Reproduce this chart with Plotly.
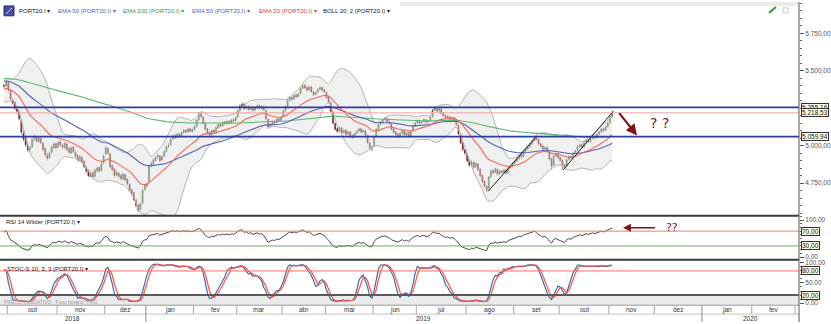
import numpy as np
import pandas as pd
import plotly.graph_objects as go

W, H = 831, 324
SCALE_X = 799          # pixel column of the price scale
PX_PER_SESSION = 2.164
FONT = "Liberation Sans"

symbol = "PORT20.I"

# ---- daily sessions: 27 Sep 2018 .. 4 Nov 2019 (x = -1 .. 280) ----
opens = [
    5405, 5398,
    5420, 5365, 5305, 5290, 5245, 5225, 5170, 5080, 5050, 5000, 4975, 4990, 5045, 5058, 5025, 5048, 5015, 4980, 4935, 4920, 4955, 4985, 5012,
    4990, 5025, 5000, 4985, 5010, 4980, 4950, 4990, 4955, 4935, 4900, 4920, 4895, 4855, 4835, 4795, 4820, 4795, 4830, 4855, 4835, 4885,
    4945, 4980, 4945, 4865, 4845, 4805, 4815, 4800, 4775, 4805, 4775, 4740, 4705, 4685, 4635, 4605, 4575, 4615, 4705,
    4730, 4760, 4865, 4875, 4900, 4925, 4930, 4905, 4930, 4962, 4995, 5005, 5045, 5068, 5055, 5078, 5062, 5088, 5102, 5092, 5112, 5095,
    5108, 5128, 5172, 5212, 5190, 5148, 5112, 5088, 5072, 5102, 5092, 5118, 5142, 5132, 5158, 5148, 5162, 5152, 5172, 5168,
    5190, 5232, 5262, 5278, 5248, 5262, 5242, 5255, 5238, 5252, 5268, 5248, 5262, 5235, 5175, 5128, 5142, 5162, 5152, 5178, 5168,
    5195, 5232, 5262, 5302, 5322, 5312, 5338, 5328, 5348, 5382, 5402, 5388, 5372, 5392, 5358, 5342, 5358, 5378, 5388, 5372,
    5355, 5322, 5288, 5225, 5148, 5112, 5098, 5118, 5088, 5102, 5078, 5092, 5068, 5058, 5082, 5098, 5112, 5092, 5098, 5068, 5018, 4982,
    4995, 5062, 5112, 5142, 5152, 5172, 5182, 5162, 5148, 5112, 5092, 5078, 5062, 5082, 5098, 5072, 5088, 5062, 5098, 5132,
    5152, 5168, 5152, 5162, 5172, 5158, 5168, 5192, 5238, 5252, 5232, 5242, 5218, 5202, 5188, 5192, 5178, 5188, 5168, 5138, 5078, 5018, 4972,
    4945, 4905, 4872, 4888, 4858, 4878, 4842, 4802, 4762, 4728, 4712, 4792, 4832, 4822, 4842, 4812, 4832, 4822, 4838, 4818, 4852, 4862,
    4882, 4898, 4912, 4938, 4928, 4962, 4978, 4992, 5012, 5032, 5052, 5042, 5012, 4998, 4978, 4988, 4958, 4912, 4870, 4932, 4948,
    4922, 4902, 4872, 4862, 4908, 4928, 4918, 4952, 4968, 4992, 5008, 4992, 5022, 5038, 5028, 5048, 5062, 5052, 5078, 5092, 5112, 5102, 5128,
    5152, 5195,
]
highs = [
    5412, 5438,
    5428, 5372, 5318, 5296, 5262, 5236, 5178, 5098, 5060, 5015, 5000, 5052, 5075, 5066, 5062, 5055, 5022, 4988, 4950, 4960, 5000, 5022, 5020,
    5030, 5035, 5012, 5025, 5018, 4990, 4995, 4998, 4965, 4942, 4938, 4930, 4902, 4866, 4840, 4828, 4825, 4845, 4862, 4860, 4890, 4942,
    4995, 4990, 4950, 4875, 4852, 4835, 4825, 4810, 4820, 4812, 4782, 4748, 4715, 4690, 4645, 4612, 4620, 4710, 4742,
    4760, 4870, 4895, 4915, 4932, 4948, 4938, 4935, 4968, 5002, 5015, 5050, 5075, 5078, 5085, 5085, 5095, 5112, 5110, 5120, 5118, 5115,
    5135, 5178, 5222, 5218, 5198, 5155, 5118, 5095, 5108, 5110, 5128, 5150, 5148, 5162, 5165, 5168, 5170, 5178, 5180, 5195,
    5238, 5275, 5290, 5282, 5270, 5268, 5262, 5260, 5258, 5275, 5272, 5268, 5266, 5240, 5180, 5150, 5168, 5170, 5182, 5185, 5198,
    5240, 5268, 5310, 5330, 5328, 5342, 5345, 5352, 5390, 5412, 5410, 5395, 5398, 5396, 5365, 5362, 5382, 5395, 5392, 5378,
    5362, 5330, 5292, 5230, 5155, 5120, 5128, 5125, 5110, 5108, 5098, 5098, 5075, 5088, 5102, 5118, 5118, 5108, 5105, 5072, 5025, 5002,
    5068, 5118, 5150, 5165, 5178, 5192, 5188, 5168, 5152, 5118, 5098, 5082, 5090, 5108, 5105, 5092, 5092, 5102, 5138, 5160,
    5175, 5172, 5168, 5182, 5178, 5172, 5198, 5245, 5262, 5258, 5255, 5248, 5222, 5208, 5202, 5198, 5192, 5192, 5172, 5142, 5082, 5022, 4980,
    4952, 4912, 4902, 4895, 4890, 4882, 4848, 4808, 4770, 4735, 4798, 4842, 4840, 4852, 4848, 4838, 4838, 4845, 4842, 4858, 4870, 4888,
    4905, 4920, 4942, 4945, 4968, 4985, 4998, 5018, 5040, 5062, 5058, 5045, 5018, 5002, 4995, 4992, 4962, 4918, 4938, 4955, 4952,
    4928, 4908, 4880, 4912, 4935, 4932, 4958, 4972, 4998, 5015, 5012, 5028, 5045, 5042, 5052, 5068, 5068, 5082, 5098, 5118, 5118, 5132, 5158,
    5200, 5235,
]
lows = [
    5382, 5390,
    5362, 5300, 5272, 5238, 5215, 5170, 5075, 5030, 4990, 4958, 4955, 4985, 5032, 5020, 5018, 5010, 4965, 4925, 4900, 4910, 4948, 4978, 4975,
    4982, 4995, 4978, 4980, 4965, 4945, 4942, 4950, 4918, 4895, 4892, 4880, 4850, 4818, 4790, 4788, 4780, 4788, 4822, 4820, 4828, 4878,
    4938, 4940, 4850, 4830, 4790, 4795, 4785, 4768, 4770, 4760, 4735, 4690, 4668, 4630, 4588, 4555, 4565, 4608, 4698,
    4715, 4755, 4855, 4868, 4892, 4912, 4890, 4898, 4925, 4955, 4985, 4998, 5038, 5042, 5048, 5052, 5055, 5080, 5082, 5085, 5088, 5088,
    5100, 5122, 5165, 5185, 5140, 5100, 5075, 5060, 5065, 5080, 5088, 5112, 5122, 5125, 5138, 5140, 5142, 5145, 5158, 5160,
    5185, 5228, 5255, 5238, 5240, 5232, 5235, 5225, 5230, 5245, 5242, 5240, 5232, 5170, 5112, 5118, 5135, 5142, 5148, 5158, 5162,
    5190, 5225, 5255, 5295, 5300, 5305, 5318, 5320, 5342, 5375, 5378, 5362, 5365, 5352, 5330, 5335, 5350, 5370, 5362, 5350,
    5310, 5280, 5220, 5140, 5098, 5085, 5090, 5075, 5080, 5065, 5070, 5055, 5045, 5050, 5075, 5090, 5082, 5085, 5062, 5010, 4970, 4962,
    4990, 5055, 5105, 5135, 5145, 5165, 5152, 5140, 5100, 5080, 5065, 5050, 5055, 5075, 5062, 5065, 5052, 5058, 5092, 5125,
    5145, 5142, 5145, 5155, 5148, 5150, 5162, 5188, 5230, 5222, 5225, 5208, 5192, 5178, 5180, 5168, 5170, 5162, 5132, 5070, 5010, 4962, 4938,
    4888, 4858, 4862, 4845, 4850, 4830, 4790, 4750, 4718, 4690, 4708, 4785, 4810, 4815, 4800, 4805, 4812, 4815, 4805, 4812, 4845, 4855,
    4875, 4890, 4905, 4918, 4922, 4955, 4970, 4985, 5005, 5025, 5032, 5002, 4985, 4965, 4968, 4950, 4900, 4840, 4862, 4925, 4910,
    4890, 4838, 4845, 4855, 4900, 4905, 4912, 4945, 4960, 4985, 4982, 4988, 5015, 5018, 5020, 5040, 5042, 5048, 5070, 5085, 5092, 5098, 5120,
    5148, 5188,
]
closes = [
    5395, 5425,
    5370, 5310, 5285, 5250, 5230, 5180, 5090, 5045, 5005, 4970, 4985, 5040, 5060, 5030, 5050, 5020, 4975, 4940, 4915, 4950, 4990, 5010, 4985,
    5020, 5005, 4990, 5015, 4975, 4955, 4985, 4960, 4930, 4905, 4925, 4890, 4860, 4830, 4800, 4815, 4790, 4835, 4850, 4830, 4880, 4930,
    4985, 4950, 4860, 4840, 4800, 4820, 4795, 4780, 4810, 4770, 4745, 4700, 4680, 4640, 4600, 4570, 4610, 4700, 4735,
    4745, 4860, 4880, 4905, 4920, 4935, 4900, 4925, 4960, 4990, 5000, 5040, 5065, 5050, 5075, 5060, 5085, 5100, 5090, 5110, 5095, 5105,
    5125, 5170, 5210, 5195, 5150, 5110, 5085, 5070, 5100, 5090, 5120, 5140, 5130, 5155, 5145, 5160, 5150, 5170, 5165, 5185,
    5230, 5265, 5275, 5245, 5260, 5240, 5255, 5235, 5250, 5265, 5250, 5260, 5240, 5180, 5125, 5140, 5160, 5150, 5175, 5165, 5190,
    5230, 5260, 5300, 5320, 5310, 5335, 5325, 5345, 5380, 5400, 5385, 5370, 5390, 5360, 5340, 5355, 5375, 5385, 5370, 5360,
    5320, 5290, 5230, 5150, 5110, 5095, 5120, 5085, 5100, 5075, 5090, 5065, 5055, 5080, 5095, 5110, 5090, 5100, 5070, 5020, 4985, 4990,
    5060, 5110, 5140, 5155, 5170, 5180, 5160, 5150, 5110, 5090, 5075, 5060, 5080, 5100, 5070, 5085, 5060, 5095, 5130, 5150,
    5165, 5150, 5160, 5175, 5155, 5165, 5190, 5235, 5250, 5230, 5245, 5215, 5200, 5185, 5195, 5175, 5185, 5170, 5140, 5080, 5020, 4975, 4950,
    4900, 4870, 4890, 4855, 4880, 4840, 4800, 4760, 4730, 4705, 4790, 4830, 4820, 4845, 4810, 4830, 4820, 4835, 4815, 4850, 4860, 4880,
    4895, 4910, 4935, 4925, 4960, 4975, 4990, 5010, 5030, 5050, 5040, 5010, 4995, 4975, 4985, 4960, 4910, 4865, 4930, 4945, 4920,
    4900, 4870, 4860, 4905, 4925, 4915, 4950, 4965, 4990, 5005, 4990, 5020, 5035, 5025, 5045, 5060, 5050, 5075, 5090, 5110, 5100, 5125, 5150,
    5190, 5218.53,
]
# sessions before the first candle, used to warm up the indicators
prior_closes = [5330, 5345, 5320, 5300, 5285, 5310, 5335, 5360, 5345, 5370,
                5380, 5365, 5390, 5400, 5385, 5405, 5395, 5380, 5400, 5410]

# moving averages: period, value at the first candle, colour
ema_periods = [200, 50, 20]
ema_first = [5449, 5431, 5376]
ema_colors = ["#5cb874", "#5463b8", "#f2675a"]

blue_levels = [5255.16, 5059.94]
last_level = 5218.53

# hand-drawn trend lines (session index, price)
trend_x = [[222.7, 245.1], [257.4, 280.5]]
trend_y = [[4695, 5062], [4838, 5229]]

# hand-drawn notes
note_arrow_x = [282.7, 291.5]
note_arrow_y = [5227, 5068]
note_q_x, note_q_y = 302.1, 5148
rsi_arrow_x = [300.5, 285.0]
rsi_arrow_y = [79, 79]
rsi_q_x, rsi_q_y = 307.5, 80

months = ["out", "nov", "dez", "jan", "fev", "mar", "abr", "mai", "jun",
          "jul", "ago", "set", "out", "nov", "dez", "jan", "fev"]
month_sessions = [23, 22, 19, 22, 20, 21, 20, 22, 20, 23, 22, 21, 23, 21, 22, 23, 20]
years = ["2018", "2019", "2020"]
january_index = [3, 15]                  # positions of January in months

price_ticks = [4750, 5000, 5500, 5750]
rsi_levels = [70, 30]
stoch_levels = [80, 20]

# ---------------------------------------------------------------------------
x = np.arange(len(closes)) - 1
x_lo = 0.5 - 7.3 / PX_PER_SESSION
x_hi = x_lo + SCALE_X / PX_PER_SESSION


def fmt(v):
    s = f"{v:,.2f}"
    return s.replace(",", "#").replace(".", ",").replace("#", ".")


def pxx(p):
    return p / W


def pxy(p):
    return 1 - p / H


full_close = pd.Series(prior_closes + closes, dtype=float)
full_high = pd.Series(prior_closes + highs, dtype=float)
full_low = pd.Series(prior_closes + lows, dtype=float)
n0 = len(prior_closes)


def ema(values, period, first):
    a = 2.0 / (period + 1)
    out = [first]
    for v in values[1:]:
        out.append(a * v + (1 - a) * out[-1])
    return out


mid = full_close.rolling(20).mean()
sd = full_close.rolling(20).std(ddof=0)
boll_up = (mid + 2 * sd).iloc[n0:].values
boll_dn = (mid - 2 * sd).iloc[n0:].values

diff = full_close.diff()
gain = diff.clip(lower=0)
loss = -diff.clip(upper=0)
avg_g = gain.ewm(alpha=1 / 14, adjust=False).mean()
avg_l = loss.ewm(alpha=1 / 14, adjust=False).mean()
rsi = (100 - 100 / (1 + avg_g / avg_l)).iloc[n0:].values

hh = full_high.rolling(10).max()
ll = full_low.rolling(10).min()
raw_k = 100 * (full_close - ll) / (hh - ll)
stoch_k = raw_k.rolling(3).mean()
stoch_d = stoch_k.rolling(3).mean()
stoch_k = stoch_k.iloc[n0:].values
stoch_d = stoch_d.iloc[n0:].values

fig = go.Figure()

# Bollinger band
fig.add_trace(go.Scatter(x=x, y=boll_up, mode="lines",
                         line=dict(color="#b4b4b4", width=1), hoverinfo="skip"))
fig.add_trace(go.Scatter(x=x, y=boll_dn, mode="lines", fill="tonexty",
                         fillcolor="rgba(222,222,222,0.45)",
                         line=dict(color="#b4b4b4", width=1), hoverinfo="skip"))

for per, first, col in zip(ema_periods, ema_first, ema_colors):
    fig.add_trace(go.Scatter(x=x, y=ema(closes, per, first), mode="lines",
                             line=dict(color=col, width=1.1), hoverinfo="skip"))

fig.add_trace(go.Candlestick(
    x=x, open=opens, high=highs, low=lows, close=closes,
    increasing=dict(line=dict(color="#1f2a18", width=0.5), fillcolor="#6aa847"),
    decreasing=dict(line=dict(color="#4a0c0c", width=0.5), fillcolor="#c0262b"),
    whiskerwidth=0, hoverinfo="skip"))

for tx, ty in zip(trend_x, trend_y):
    fig.add_trace(go.Scatter(x=tx, y=ty, mode="lines",
                             line=dict(color="#222222", width=1), hoverinfo="skip"))

# RSI panel
fig.add_trace(go.Scatter(x=x, y=rsi, yaxis="y2", mode="lines",
                         line=dict(color="#4a4a4a", width=1), hoverinfo="skip"))
# Stochastic panel
fig.add_trace(go.Scatter(x=x, y=stoch_k, yaxis="y3", mode="lines",
                         line=dict(color="#3f6e9c", width=1.2), hoverinfo="skip"))
fig.add_trace(go.Scatter(x=x, y=stoch_d, yaxis="y3", mode="lines",
                         line=dict(color="#ff4f4f", width=1.2), hoverinfo="skip"))

shapes = []
ann = []


def hline(yref, y, color, width):
    return dict(type="line", xref="paper", yref=yref, x0=0, x1=pxx(SCALE_X),
                y0=y, y1=y, line=dict(color=color, width=width))


# horizontal levels on the price panel
for lv in blue_levels:
    shapes.append(hline("y", lv, "#2b3f9e", 1.6))
shapes.append(hline("y", last_level, "#f4a0a0", 1))

# indicator reference lines
shapes.append(hline("y2", rsi_levels[0], "#f27c7c", 1))
shapes.append(hline("y2", rsi_levels[1], "#63b463", 1))
shapes.append(hline("y3", stoch_levels[0], "#ff6b6b", 1))

# info strip under the stochastic panel
shapes.append(dict(type="rect", xref="paper", yref="paper", x0=0, x1=pxx(SCALE_X),
                   y0=pxy(307), y1=pxy(297.5), fillcolor="#ebebeb", line=dict(width=0),
                   layer="below"))
shapes.append(hline("y3", stoch_levels[1], "#5a5a5a", 2))

# panel separators
for yy in (216.5, 261):
    shapes.append(dict(type="line", xref="paper", yref="paper", x0=0, x1=pxx(SCALE_X),
                       y0=pxy(yy), y1=pxy(yy), line=dict(color="#3a3a3a", width=2)))

# faint strip at the top right of the header
shapes.append(dict(type="rect", xref="paper", yref="paper", x0=pxx(400), x1=pxx(SCALE_X),
                   y0=pxy(4), y1=1, fillcolor="#ececec", line=dict(width=0), layer="below"))

# time axis: month row and year row
shapes.append(dict(type="line", xref="paper", yref="paper", x0=0, x1=pxx(SCALE_X),
                   y0=pxy(307), y1=pxy(307), line=dict(color="#9a9a9a", width=1)))
shapes.append(dict(type="line", xref="paper", yref="paper", x0=0, x1=pxx(SCALE_X),
                   y0=pxy(316), y1=pxy(316), line=dict(color="#c4c4c4", width=1)))
bounds = 0.5 + np.concatenate([[0], np.cumsum(month_sessions)])
for k, b in enumerate(bounds):
    is_year = k in january_index
    shapes.append(dict(type="line", xref="x", yref="paper", x0=b, x1=b,
                       y0=0 if is_year else pxy(316), y1=pxy(307),
                       line=dict(color="#8a8a8a" if is_year else "#a8a8a8", width=1)))
for k, name in enumerate(months):
    ann.append(dict(x=(bounds[k] + bounds[k + 1]) / 2, xref="x", xanchor="center",
                    y=pxy(311.5), yref="paper", yanchor="middle",
                    text=name, showarrow=False, font=dict(family=FONT, size=6.5, color="#333")))
year_edges = [x_lo, bounds[january_index[0]], bounds[january_index[1]], x_hi]
for k, yname in enumerate(years):
    ann.append(dict(x=(year_edges[k] + year_edges[k + 1]) / 2, xref="x", xanchor="center",
                    y=pxy(320), yref="paper", yanchor="middle",
                    text=yname, showarrow=False, font=dict(family=FONT, size=6.5, color="#333")))

# price scale line
shapes.append(dict(type="line", xref="paper", yref="paper", x0=pxx(SCALE_X), x1=pxx(SCALE_X),
                   y0=0, y1=1, line=dict(color="#555", width=1)))


# value boxes on the scale
def box(text, y, yref):
    return dict(x=pxx(SCALE_X + 2), xref="paper", xanchor="left", y=y, yref=yref,
                yanchor="middle", text=text, showarrow=False, bgcolor="#ffffe1",
                bordercolor="#333", borderwidth=1, borderpad=0,
                font=dict(family=FONT, size=6.5, color="#111"))


ann.append(box(fmt(blue_levels[0]), blue_levels[0], "y"))
ann.append(box(fmt(last_level), last_level, "y"))
ann.append(box(fmt(blue_levels[1]), blue_levels[1], "y"))
for lv in rsi_levels:
    ann.append(box(fmt(lv), lv, "y2"))
for lv in stoch_levels:
    ann.append(box(fmt(lv), lv, "y3"))


def label(xp, yp, text, color, size=6):
    return dict(x=pxx(xp), xref="paper", xanchor="left", y=pxy(yp), yref="paper",
                yanchor="middle", text=text, showarrow=False,
                font=dict(family=FONT, size=size, color=color))


# header
hdr = [(17, symbol + " ▾", "#111"),
       (56, f"EMA 50 ({symbol}) ▾", "#5463b8"),
       (121, f"EMA 200 ({symbol}) ▾", "#2f9c48"),
       (190, f"EMA 50 ({symbol}) ▾", "#5463b8"),
       (257, f"EMA 20 ({symbol}) ▾", "#e23a2e"),
       (321, f"BOLL 20; 2 ({symbol}) ▾", "#222")]
for xp, t, c in hdr:
    ann.append(label(xp, 9, t, c))
shapes.append(dict(type="rect", xref="paper", yref="paper", x0=pxx(4), x1=pxx(14),
                   y0=pxy(14), y1=pxy(4), fillcolor="#4c4aa0", line=dict(color="#2a2a70", width=1)))
shapes.append(dict(type="line", xref="paper", yref="paper", x0=pxx(6), x1=pxx(12),
                   y0=pxy(12), y1=pxy(6), line=dict(color="#d8d8ff", width=1)))
shapes.append(dict(type="line", xref="paper", yref="paper", x0=pxx(769), x1=pxx(776),
                   y0=pxy(11), y1=pxy(5), line=dict(color="#2f9c2f", width=2)))
shapes.append(dict(type="rect", xref="paper", yref="paper", x0=pxx(783), x1=pxx(788),
                   y0=pxy(11), y1=pxy(6), line=dict(color="#c8c8c8", width=1)))

ann.append(label(4, 222.5, f"RSI 14 Wilder ({symbol}) ▾", "#222"))
ann.append(label(5, 270.5, f"STOC-S 10; 3; 3 ({symbol}) ▾", "#222"))
ann.append(label(2, 303.5, "PREÇO INDICATIVO   Fuso horário: TMG", "#a0a0a0", 5))

# hand-drawn notes
ann.append(dict(x=note_arrow_x[1], y=note_arrow_y[1], xref="x", yref="y",
                ax=note_arrow_x[0], ay=note_arrow_y[0], axref="x", ayref="y",
                showarrow=True, arrowhead=2, arrowsize=1, arrowwidth=2.2,
                arrowcolor="#7c1616", text=""))
ann.append(dict(x=note_q_x, y=note_q_y, xref="x", yref="y", xanchor="center",
                yanchor="middle", text="? ?", showarrow=False,
                font=dict(family="DejaVu Sans", size=14, color="#7c1616")))
ann.append(dict(x=rsi_arrow_x[1], y=rsi_arrow_y[1], xref="x", yref="y2",
                ax=rsi_arrow_x[0], ay=rsi_arrow_y[0], axref="x", ayref="y2",
                showarrow=True, arrowhead=2, arrowsize=1, arrowwidth=1.6,
                arrowcolor="#7c1616", text=""))
ann.append(dict(x=rsi_q_x, y=rsi_q_y, xref="x", yref="y2", xanchor="center",
                yanchor="middle", text="??", showarrow=False,
                font=dict(family="DejaVu Sans", size=11, color="#7c1616")))

tick_font = dict(family=FONT, size=6.5, color="#555")
common_y = dict(side="right", anchor="x", showgrid=False, zeroline=False, showline=False,
                ticks="outside", ticklen=4, tickcolor="#555", tickfont=tick_font, fixedrange=True)

fig.update_layout(
    width=W, height=H, margin=dict(l=0, r=0, t=0, b=0),
    paper_bgcolor="white", plot_bgcolor="rgba(0,0,0,0)", showlegend=False,
    xaxis=dict(domain=[0, pxx(SCALE_X)], range=[x_lo, x_hi], visible=False,
               rangeslider=dict(visible=False), fixedrange=True),
    yaxis=dict(domain=[pxy(216), 1], range=[4534.5, 5958.4],
               tickvals=price_ticks, ticktext=[fmt(v) for v in price_ticks],
               minor=dict(dtick=50, ticks="outside", ticklen=2, tickcolor="#666"),
               **common_y),
    yaxis2=dict(domain=[pxy(261), pxy(217)], range=[-7.33, 110],
                tickvals=[0, 100], ticktext=[fmt(0), fmt(100)],
                minor=dict(dtick=10, ticks="outside", ticklen=2, tickcolor="#666"),
                **common_y),
    yaxis3=dict(domain=[pxy(306), pxy(262)], range=[-2.96, 105.4],
                tickvals=[0, 50, 100], ticktext=[fmt(0), fmt(50), fmt(100)],
                minor=dict(dtick=10, ticks="outside", ticklen=2, tickcolor="#666"),
                **common_y),
    shapes=shapes, annotations=ann,
)

fig.write_html("out.html")
